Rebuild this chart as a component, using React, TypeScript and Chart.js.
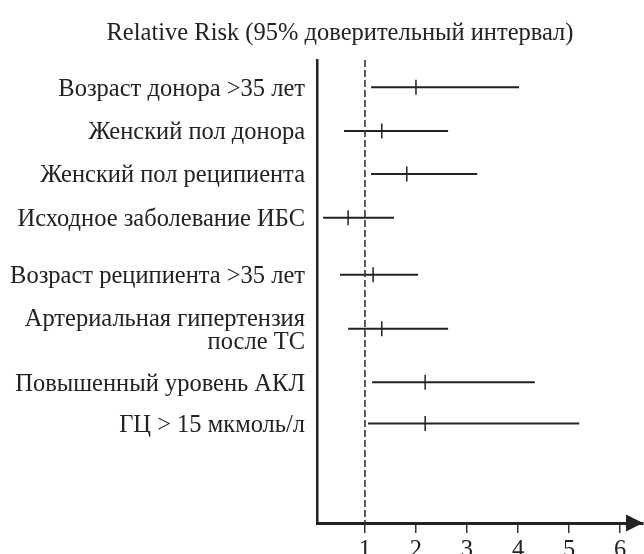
import React, { useEffect, useRef } from "react";
import { Chart, registerables } from "chart.js";

Chart.register(...registerables);

const categories: (string | string[])[] = [
  "Возраст донора >35 лет",
  "Женский пол донора",
  "Женский пол реципиента",
  "Исходное заболевание ИБС",
  "Возраст реципиента >35 лет",
  ["Артериальная гипертензия", "после ТС"],
  "Повышенный уровень АКЛ",
  "ГЦ > 15 мкмоль/л",
];
const rowPos = [0, 1, 1.98, 2.98, 4.28, 5.51, 6.73, 7.67];
const rrPoint = [2.0, 1.33, 1.82, 0.67, 1.16, 1.33, 2.18, 2.18];
const ciLow = [1.12, 0.59, 1.12, 0.18, 0.51, 0.67, 1.14, 1.06];
const ciHigh = [4.02, 2.63, 3.2, 1.57, 2.04, 2.63, 4.33, 5.2];
const xTicks = [1, 2, 3, 4, 5, 6];
const refValue = 1;
const titleText = "Relative Risk (95% доверительный интервал)";

const INK = "#222222";
const FONT = "'Liberation Serif', 'Times New Roman', serif";
const FS = 24.5;

export default function App() {
  const ref = useRef<HTMLCanvasElement | null>(null);
  useEffect(() => {
    document.body.style.margin = "0";
    if (!ref.current) return;
    const yMin = -0.62;
    const yMax = 9.94;

    const ciSets = categories.map((c, i) => ({
      type: "scatter" as const,
      data: [
        { x: ciLow[i], y: rowPos[i] },
        { x: ciHigh[i], y: rowPos[i] },
      ],
      showLine: true,
      borderColor: INK,
      borderWidth: 2,
      pointRadius: 0,
    }));

    const arrowTitle = {
      id: "arrowTitle",
      afterDraw(chart: any) {
        const { ctx, chartArea } = chart;
        ctx.save();
        ctx.fillStyle = INK;
        ctx.beginPath();
        const y = chartArea.bottom;
        const tip = chartArea.right;
        ctx.moveTo(tip, y);
        ctx.lineTo(tip - 17, y - 8.5);
        ctx.lineTo(tip - 17, y + 8.5);
        ctx.closePath();
        ctx.fill();
        ctx.font = `${FS}px ${FONT}`;
        ctx.textAlign = "center";
        ctx.textBaseline = "middle";
        ctx.fillText(titleText, 340, 34);
        ctx.restore();
      },
    };

    const chart = new Chart(ref.current, {
      type: "scatter",
      data: {
        datasets: [
          {
            type: "scatter",
            data: [
              { x: refValue, y: yMin },
              { x: refValue, y: yMax },
            ],
            showLine: true,
            borderColor: "#333333",
            borderWidth: 1.6,
            borderDash: [7, 3],
            pointRadius: 0,
          },
          ...ciSets,
          {
            type: "scatter",
            data: rrPoint.map((v, i) => ({ x: v, y: rowPos[i] })),
            pointStyle: "line",
            rotation: 90,
            pointRadius: 7.5,
            borderColor: INK,
            borderWidth: 1.5,
            backgroundColor: INK,
          },
        ] as any,
      },
      options: {
        animation: false,
        responsive: false,
        maintainAspectRatio: false,
        devicePixelRatio: 1,
        layout: { autoPadding: false, padding: { top: 60, right: 1, left: 0, bottom: 0 } },
        plugins: { legend: { display: false }, tooltip: { enabled: false }, title: { display: false } },
        scales: {
          x: {
            type: "linear",
            min: 0.06,
            max: 6.45,
            afterBuildTicks: (s: any) => {
              s.ticks = xTicks.map((v) => ({ value: v }));
            },
            afterFit: (s: any) => {
              s.height = 31;
              s.paddingLeft = 0;
              s.paddingRight = 0;
            },
            grid: {
              display: true,
              drawOnChartArea: false,
              drawTicks: true,
              tickLength: 10,
              color: "#333333",
              lineWidth: 1.5,
            },
            border: { display: true, color: INK, width: 3 },
            ticks: {
              color: INK,
              font: { family: FONT, size: FS },
              padding: 3,
              maxRotation: 0,
              callback: (v: any) => String(v),
            },
          },
          y: {
            type: "linear",
            reverse: true,
            min: yMin,
            max: yMax,
            afterBuildTicks: (s: any) => {
              s.ticks = rowPos.map((v) => ({ value: v }));
            },
            afterFit: (s: any) => {
              s.width = 317;
              s.paddingTop = 0;
              s.paddingBottom = 0;
            },
            grid: { display: false, drawTicks: false },
            border: { display: true, color: INK, width: 2.5 },
            ticks: {
              color: INK,
              font: { family: FONT, size: FS, lineHeight: 0.95 },
              padding: 12,
              labelOffset: 2,
              autoSkip: false,
              callback: (v: any) => {
                const i = rowPos.indexOf(Number(v));
                return i >= 0 ? (categories[i] as any) : "";
              },
            },
          },
        },
      },
      plugins: [arrowTitle],
    });
    return () => chart.destroy();
  }, []);
  return (
    <div style={{ position: "absolute", left: 0, top: 0, width: 644, height: 554, background: "#fff" }}>
      <canvas ref={ref} width={644} height={554} style={{ display: "block" }} />
    </div>
  );
}
